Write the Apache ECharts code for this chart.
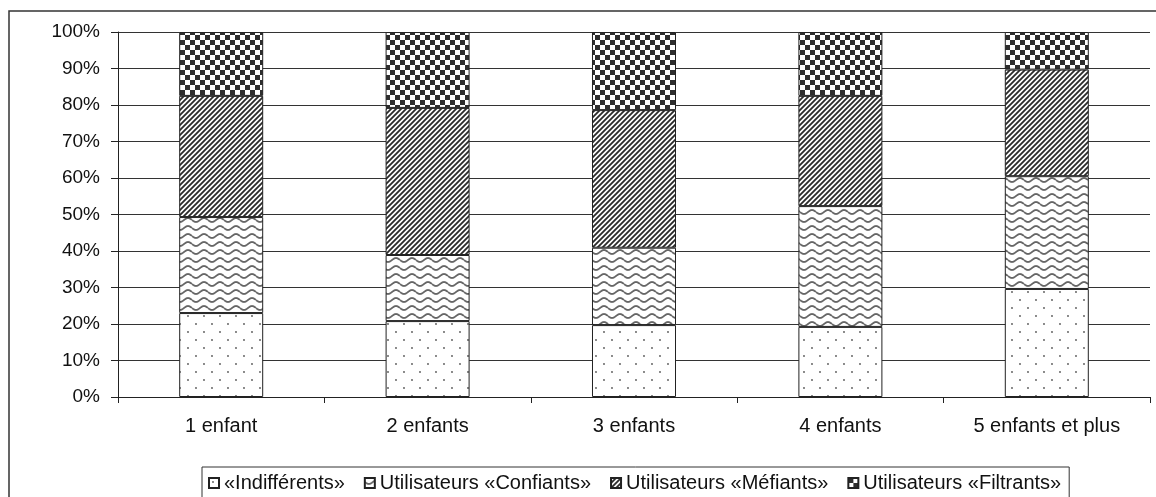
<!DOCTYPE html>
<html><head><meta charset="utf-8">
<script src="https://cdn.jsdelivr.net/npm/echarts@6/dist/echarts.min.js"></script>
<style>html,body{margin:0;padding:0;background:#fff}#c{width:1156px;height:497px}</style>
</head><body><div id="c"></div>
<script>
const categories = ['1 enfant','2 enfants','3 enfants','4 enfants','5 enfants et plus'];
const seriesNames = ['«Indifférents»','Utilisateurs «Confiants»','Utilisateurs «Méfiants»','Utilisateurs «Filtrants»'];
const indifferents = [23.0, 20.8, 19.7, 19.2, 29.6];
const confiants = [26.3, 18.1, 21.2, 33.1, 30.9];
const mefiants = [33.2, 40.3, 37.7, 30.2, 29.2];
const filtrants = [17.5, 20.8, 21.4, 17.5, 10.3];
const yTicks = [0,10,20,30,40,50,60,70,80,90,100];

function pat(w,h,draw){const c=document.createElement('canvas');c.width=w;c.height=h;const g=c.getContext('2d');g.fillStyle='#fff';g.fillRect(0,0,w,h);draw(g);return {image:c,repeat:'repeat'};}
const dots = pat(16,16,g=>{g.fillStyle='#555';[[4,4],[12,12]].forEach(p=>{g.beginPath();g.arc(p[0],p[1],0.9,0,Math.PI*2);g.fill();});});
const waves = pat(16,8,g=>{g.strokeStyle='#666';g.lineWidth=1.8;g.beginPath();for(let x=0;x<=16;x+=0.5){const y=4+2*Math.sin(2*Math.PI*x/16);if(x===0)g.moveTo(x,y);else g.lineTo(x,y);}g.stroke();});
const stripes = pat(5,5,g=>{g.strokeStyle='#2a2a2a';g.lineWidth=1.8;g.beginPath();g.moveTo(-1,6);g.lineTo(6,-1);g.moveTo(-1,1);g.lineTo(1,-1);g.moveTo(4,6);g.lineTo(6,4);g.stroke();});
const checker = pat(10,10,g=>{g.fillStyle='#2e2e2e';g.fillRect(0,0,5,5);g.fillRect(5,5,5,5);});
const fills = [dots,waves,stripes,checker];
const datas = [indifferents,confiants,mefiants,filtrants];

const chart = echarts.init(document.getElementById('c'));
const font = 'Liberation Sans, Arial, sans-serif';
chart.setOption({
  animation:false,
  grid:{left:118,right:6,top:32,bottom:100},
  graphic:[{type:'rect',shape:{x:9,y:11,width:1170,height:520},style:{fill:'none',stroke:'#333',lineWidth:1.5},silent:true}],
  legend:{
    data:seriesNames, left:202, top:467, padding:[6,8,8,6], itemGap:19,
    borderColor:'#333', borderWidth:1, itemWidth:10, itemHeight:10, icon:'rect',
    textStyle:{fontFamily:font,fontSize:20,color:'#111'}
  },
  xAxis:{type:'category',data:categories,
    axisLine:{lineStyle:{color:'#222',width:1}},
    axisTick:{show:true,length:6,lineStyle:{color:'#222'}},
    axisLabel:{fontFamily:font,fontSize:20,color:'#111',margin:19}},
  yAxis:{type:'value',min:0,max:100,interval:10,
    axisLine:{show:true,lineStyle:{color:'#222'}},
    axisTick:{show:true,length:7,lineStyle:{color:'#222'}},
    splitLine:{lineStyle:{color:'#333',width:1}},
    axisLabel:{fontFamily:font,fontSize:19,color:'#111',margin:18,formatter:v=>yTicks.includes(v)?v+'%':''}},
  series: seriesNames.map((n,i)=>({
    name:n,type:'bar',stack:'s',barWidth:'40.7%',data:datas[i],
    itemStyle:{color:fills[i],borderColor:'#222',borderWidth:1}
  }))
});
</script></body></html>
